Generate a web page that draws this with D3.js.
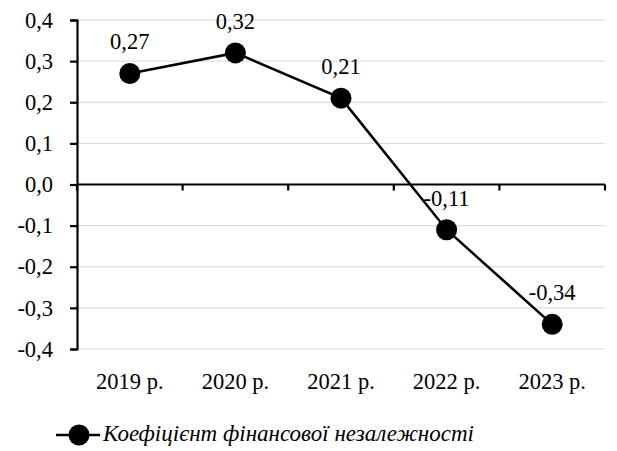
<!DOCTYPE html>
<html>
<head>
<meta charset="utf-8">
<script src="https://cdn.jsdelivr.net/npm/d3@7"></script>
<style>
  body { margin: 0; background: #fff; }
  svg text { font-family: "Liberation Serif", "Times New Roman", serif; fill: #000; }
</style>
</head>
<body>
<div id="chart"></div>
<script>
const years = ['2019 р.', '2020 р.', '2021 р.', '2022 р.', '2023 р.'];
const values = [0.27, 0.32, 0.21, -0.11, -0.34];
const yTicks = [-0.4, -0.3, -0.2, -0.1, 0, 0.1, 0.2, 0.3, 0.4];
const seriesName = 'Коефіцієнт фінансової незалежності';

const w = 617;
const h = 451;
const plotLeft = 77, plotRight = 605, plotTop = 20, plotBottom = 349;
const serif = '"Liberation Serif", "Times New Roman", serif';
const fs = '22.5px';

const fmt = v => d3.format('.1f')(v).replace('.', ',').replace('−', '-');
const fmt2 = v => d3.format('.2f')(v).replace('.', ',').replace('−', '-');

const x = d3.scaleBand().domain(years).range([plotLeft, plotRight]);
const y = d3.scaleLinear().domain([-0.4, 0.4]).range([plotBottom, plotTop]);

const svg = d3.select('#chart')
  .append('svg')
  .attr('width', w)
  .attr('height', h)
  .style('font-family', serif);

// gridlines
svg.append('g')
  .selectAll('line')
  .data(yTicks)
  .enter()
  .append('line')
  .attr('x1', plotLeft)
  .attr('x2', plotRight)
  .attr('y1', d => y(d))
  .attr('y2', d => y(d))
  .attr('stroke', '#d9d9d9')
  .attr('stroke-width', 1);

// y axis
const yAxis = d3.axisLeft(y).tickValues(yTicks).tickFormat(fmt).tickSize(7).tickPadding(17);
const gy = svg.append('g')
  .attr('transform', 'translate(' + plotLeft + ',0)')
  .call(yAxis);
gy.select('.domain').attr('stroke', '#000').attr('stroke-width', 2.2);
gy.selectAll('.tick line').attr('stroke', '#000').attr('stroke-width', 2.2);
gy.selectAll('.tick text').style('font-family', serif).style('font-size', fs);

// x axis at zero, ticks between categories
const gx = svg.append('g');
gx.append('line')
  .attr('x1', plotLeft).attr('x2', plotRight)
  .attr('y1', y(0)).attr('y2', y(0))
  .attr('stroke', '#000').attr('stroke-width', 2.2);
const bounds = years.map(d => x(d)).concat([plotRight]);
gx.selectAll('.xt')
  .data(bounds)
  .enter()
  .append('line')
  .attr('x1', d => d).attr('x2', d => d)
  .attr('y1', y(0)).attr('y2', y(0) + 6)
  .attr('stroke', '#000').attr('stroke-width', 2.2);

// category labels
svg.append('g')
  .selectAll('text')
  .data(years)
  .enter()
  .append('text')
  .attr('x', d => x(d) + x.bandwidth() / 2)
  .attr('y', 389)
  .attr('text-anchor', 'middle')
  .style('font-size', fs)
  .text(d => d);

// line
const cx = (d, i) => x(years[i]) + x.bandwidth() / 2;
const line = d3.line().x((d, i) => cx(d, i)).y(d => y(d));
svg.append('path')
  .datum(values)
  .attr('d', line)
  .attr('fill', 'none')
  .attr('stroke', '#000')
  .attr('stroke-width', 2.5);

svg.append('g')
  .selectAll('circle')
  .data(values)
  .enter()
  .append('circle')
  .attr('cx', cx)
  .attr('cy', d => y(d))
  .attr('r', 10.5)
  .attr('fill', '#000');

// data labels
svg.append('g')
  .selectAll('text')
  .data(values)
  .enter()
  .append('text')
  .attr('x', cx)
  .attr('y', d => y(d) - 24)
  .attr('text-anchor', 'middle')
  .style('font-size', fs)
  .text(fmt2);

// legend
const lg = svg.append('g');
lg.append('line')
  .attr('x1', 56).attr('x2', 100)
  .attr('y1', 435).attr('y2', 435)
  .attr('stroke', '#000').attr('stroke-width', 2.5);
lg.append('circle')
  .attr('cx', 79).attr('cy', 435).attr('r', 10.5).attr('fill', '#000');
lg.append('text')
  .attr('x', 103)
  .attr('y', 441)
  .style('font-size', '23px')
  .style('font-style', 'italic')
  .text(seriesName);
</script>
</body>
</html>
